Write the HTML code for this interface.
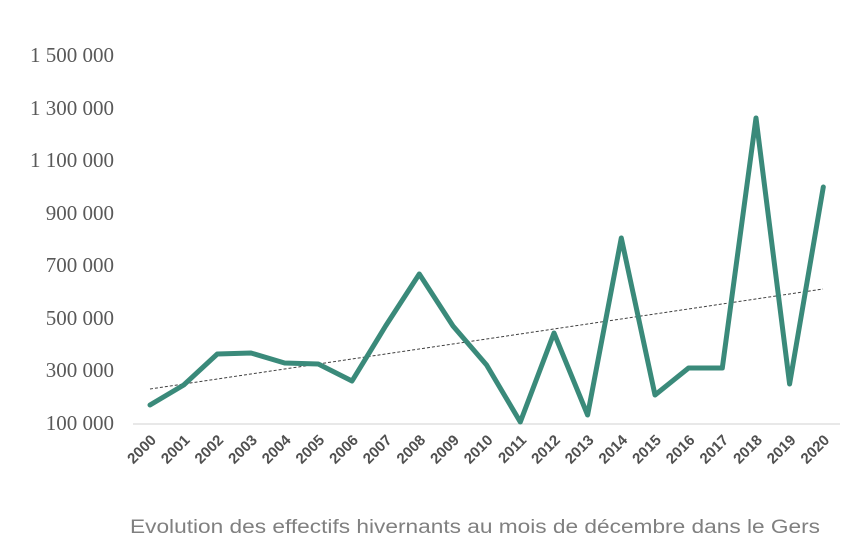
<!DOCTYPE html>
<html><head><meta charset="utf-8"><style>html,body{margin:0;padding:0;background:#fff}</style></head>
<body>
<svg width="854" height="544" viewBox="0 0 854 544" xmlns="http://www.w3.org/2000/svg">
<g font-family="Liberation Serif, serif" font-size="21" fill="#595959" text-anchor="end">
<text x="114" y="62">1 500 000</text>
<text x="114" y="115">1 300 000</text>
<text x="114" y="167">1 100 000</text>
<text x="114" y="220">900 000</text>
<text x="114" y="272">700 000</text>
<text x="114" y="325">500 000</text>
<text x="114" y="377">300 000</text>
<text x="114" y="430">100 000</text>
</g>
<line x1="133" y1="424" x2="840" y2="424" stroke="#d0d0d0" stroke-width="1"/>
<line x1="150" y1="389" x2="823" y2="289" stroke="#404040" stroke-width="1" stroke-dasharray="3,2"/>
<polyline fill="none" stroke="#3a8a7a" stroke-width="5" stroke-linejoin="round" stroke-linecap="round"
points="150,405 183.7,385 217.3,354 251,353 284.6,363 318.3,364 352,381 385.6,326 419.3,274 453,326 486.6,365 520.3,422 554,333 587.6,415 621.3,238 655,395 688.6,368 722.3,368 756,118 789.6,384 823.3,187"/>
<g font-family="Liberation Sans, sans-serif" font-size="15" font-weight="bold" fill="#505050" text-anchor="end">
<text transform="translate(157,441) rotate(-45)">2000</text>
<text transform="translate(190.7,441) rotate(-45)">2001</text>
<text transform="translate(224.3,441) rotate(-45)">2002</text>
<text transform="translate(258,441) rotate(-45)">2003</text>
<text transform="translate(291.6,441) rotate(-45)">2004</text>
<text transform="translate(325.3,441) rotate(-45)">2005</text>
<text transform="translate(359,441) rotate(-45)">2006</text>
<text transform="translate(392.6,441) rotate(-45)">2007</text>
<text transform="translate(426.3,441) rotate(-45)">2008</text>
<text transform="translate(460,441) rotate(-45)">2009</text>
<text transform="translate(493.6,441) rotate(-45)">2010</text>
<text transform="translate(527.3,441) rotate(-45)">2011</text>
<text transform="translate(561,441) rotate(-45)">2012</text>
<text transform="translate(594.6,441) rotate(-45)">2013</text>
<text transform="translate(628.3,441) rotate(-45)">2014</text>
<text transform="translate(662,441) rotate(-45)">2015</text>
<text transform="translate(695.6,441) rotate(-45)">2016</text>
<text transform="translate(729.3,441) rotate(-45)">2017</text>
<text transform="translate(763,441) rotate(-45)">2018</text>
<text transform="translate(796.6,441) rotate(-45)">2019</text>
<text transform="translate(830.3,441) rotate(-45)">2020</text>
</g>
<text x="130" y="533" font-family="Liberation Sans, sans-serif" font-size="19" fill="#808080" textLength="690" lengthAdjust="spacingAndGlyphs">Evolution des effectifs hivernants au mois de décembre dans le Gers</text>
</svg>
</body></html>
